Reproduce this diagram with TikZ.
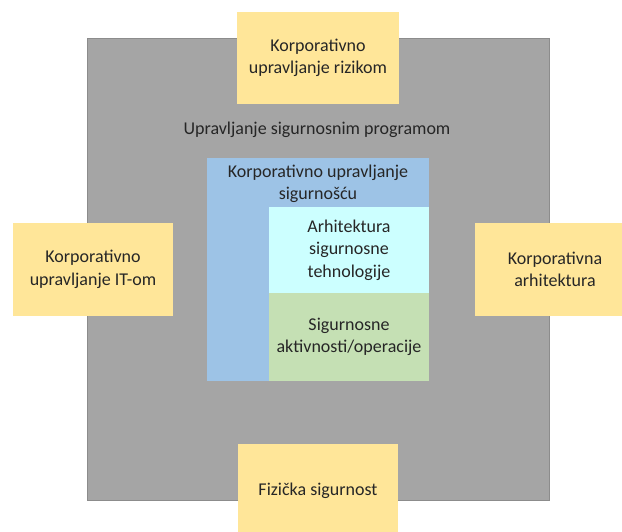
\documentclass[tikz,border=0pt]{standalone}
\usepackage{fontspec}
\setmainfont{Carlito}
\usepackage{xcolor}
\usepackage{tikz}

\definecolor{progGray}{HTML}{A5A5A5}
\definecolor{progEdge}{HTML}{8C8C8C}
\definecolor{riskYellow}{HTML}{FFE699}
\definecolor{govBlue}{HTML}{9DC3E6}
\definecolor{techCyan}{HTML}{CCFFFF}
\definecolor{opsGreen}{HTML}{C5E0B4}

\begin{document}
\begin{tikzpicture}[x=1pt,y=-1pt,
    box/.style={rectangle, inner sep=0pt, outer sep=0pt},
    outer/.style={box, fill=riskYellow, minimum width=160pt, minimum height=93pt},
    label/.style={align=center, text=black!85,
                  font=\fontsize{18}{22.5}\selectfont}]

    \useasboundingbox (0,0) rectangle (622,532);

    \node[box,
          draw = progEdge,
          fill = progGray,
          minimum width = 462pt,
          minimum height = 462pt
          ] (prog) at (318,269) {};
    \node[label] at (317,130) {Upravljanje sigurnosnim programom};


    \node[box,
          fill = govBlue,
          minimum width = 222pt,
          minimum height = 223pt
          ] (gov) at (318,269.5) {};
    \node[label] at (318,184) {Korporativno upravljanje\\sigurnošću};

    \node[box,
          fill = techCyan,
          minimum width = 160pt,
          minimum height = 86pt
          ] (tech) at (349,250) {};
    \node[label] at (tech.center) {Arhitektura\\sigurnosne\\tehnologije};

    \node[box,
          fill = opsGreen,
          minimum width = 160pt,
          minimum height = 88pt
          ] (ops) at (349,337) {};
    \node[label] at (ops.center) {Sigurnosne\\aktivnosti/operacije};


    %outer boxes
    \node[outer, minimum width = 162pt, minimum height = 92pt] (risk) at (318,58) {};
    \node[label] at (risk.center) {Korporativno\\upravljanje rizikom};

    \node[outer] (itgov) at (93,269.5) {};
    \node[label] at (itgov.center) {Korporativno\\upravljanje IT-om};

    \node[outer] (arch) at (555,269.5) {};
    \node[label] at (arch.center) {Korporativna\\arhitektura};

    \node[outer] (phys) at (318,490.5) {};
    \node[label] at (phys.center) {Fizička sigurnost};

\end{tikzpicture}
\end{document}
